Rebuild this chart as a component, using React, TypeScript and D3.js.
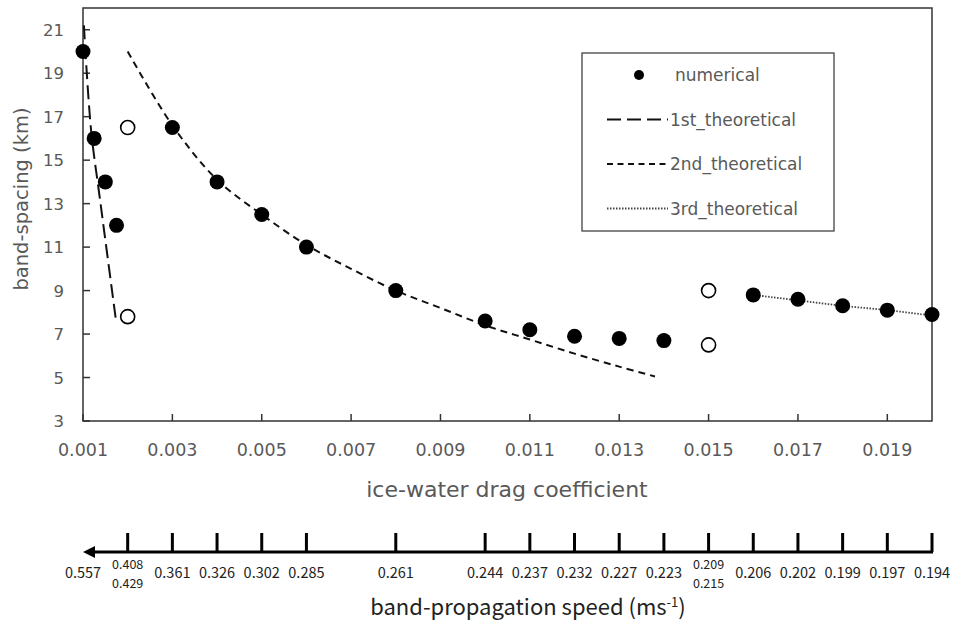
import React from "react";
import * as d3 from "d3";

// ---------- data ----------
const numericalDrag = [0.001, 0.00125, 0.0015, 0.00175, 0.003, 0.004, 0.005, 0.006, 0.008, 0.010, 0.011, 0.012, 0.013, 0.014, 0.016, 0.017, 0.018, 0.019, 0.020];
const numericalSpacing = [20.0, 16.0, 14.0, 12.0, 16.5, 14.0, 12.5, 11.0, 9.0, 7.6, 7.2, 6.9, 6.8, 6.7, 8.8, 8.6, 8.3, 8.1, 7.9];

const openDrag = [0.002, 0.002, 0.015, 0.015];
const openSpacing = [16.5, 7.8, 9.0, 6.5];

const theory1Drag = [0.00102, 0.00118, 0.00138, 0.00174];
const theory1Spacing = [21.2, 16.4, 13.2, 7.6];

const theory2Drag = [0.002, 0.003, 0.004, 0.005, 0.006, 0.007, 0.008, 0.009, 0.010, 0.011, 0.012, 0.013, 0.0138];
const theory2Spacing = [20.0, 16.6, 14.1, 12.5, 11.1, 10.0, 9.0, 8.2, 7.4, 6.75, 6.1, 5.5, 5.05];

const theory3Drag = [0.016, 0.017, 0.018, 0.019, 0.020];
const theory3Spacing = [8.8, 8.55, 8.3, 8.1, 7.85];

const xTickValues = [0.001, 0.003, 0.005, 0.007, 0.009, 0.011, 0.013, 0.015, 0.017, 0.019];
const yTickValues = [3, 5, 7, 9, 11, 13, 15, 17, 19, 21];

const speedDrag = [0.002, 0.003, 0.004, 0.005, 0.006, 0.008, 0.010, 0.011, 0.012, 0.013, 0.014, 0.015, 0.016, 0.017, 0.018, 0.019, 0.020];
const speedLabels = ["0.408|0.429", "0.361", "0.326", "0.302", "0.285", "0.261", "0.244", "0.237", "0.232", "0.227", "0.223", "0.209|0.215", "0.206", "0.202", "0.199", "0.197", "0.194"];
const speedArrowLabel = "0.557";

const legendItems = ["numerical", "1st_theoretical", "2nd_theoretical", "3rd_theoretical"];

// ---------- component ----------
export default function App() {
  const W = 954, H = 624;
  const left = 83, right = 932, top = 8, bottom = 421;
  const x = d3.scaleLinear().domain([0.001, 0.020]).range([left, right]);
  const y = d3.scaleLinear().domain([3, 22]).range([bottom, top]);

  const line = d3.line<[number, number]>().x(d => x(d[0])).y(d => y(d[1])).curve(d3.curveCatmullRom);
  const zip = (a: number[], b: number[]) => a.map((v, i) => [v, b[i]] as [number, number]);

  const gray = "#595959";
  const font = "'DejaVu Sans', sans-serif";
  const cjk = "'Noto Sans CJK JP', sans-serif";

  const axisY = 552;
  const arrowX = x(0.001);

  return (
    <svg width={W} height={H} style={{ position: "absolute", left: 0, top: 0, background: "#fff" }}>
      <rect width={W} height={H} fill="#fff" />
      {/* frame */}
      <rect x={left} y={top} width={right - left} height={bottom - top} fill="none" stroke="#333" strokeWidth={1.5} />
      {/* x ticks */}
      {xTickValues.map(v => (
        <g key={"xt" + v}>
          <line x1={x(v)} x2={x(v)} y1={bottom} y2={bottom - 7} stroke="#333" strokeWidth={1.5} />
          <text x={x(v)} y={456} textAnchor="middle" fontSize={17.5} fill={gray} fontFamily={font}>{v.toFixed(3)}</text>
        </g>
      ))}
      {/* y ticks */}
      {yTickValues.map(v => (
        <g key={"yt" + v}>
          <line x1={left} x2={left + 7} y1={y(v)} y2={y(v)} stroke="#333" strokeWidth={1.5} />
          <text x={64} y={y(v) + 6} textAnchor="end" fontSize={16.5} fill={gray} fontFamily={font}>{v}</text>
        </g>
      ))}
      {/* axis titles */}
      <text transform={`translate(28,199) rotate(-90)`} textAnchor="middle" fontSize={19.5} fill={gray} fontFamily={font}>band-spacing (km)</text>
      <text x={507} y={497} textAnchor="middle" fontSize={22} fill={gray} fontFamily={font}>ice-water drag coefficient</text>

      {/* theoretical lines */}
      <path d={line(zip(theory1Drag, theory1Spacing)) || ""} fill="none" stroke="#111" strokeWidth={2} strokeDasharray="14,6" />
      <path d={line(zip(theory2Drag, theory2Spacing)) || ""} fill="none" stroke="#111" strokeWidth={2} strokeDasharray="7,5" />
      <path d={line(zip(theory3Drag, theory3Spacing)) || ""} fill="none" stroke="#444" strokeWidth={1.8} strokeDasharray="1.5,1.5" />

      {/* points */}
      {numericalDrag.map((d, i) => (
        <circle key={"n" + i} cx={x(d)} cy={y(numericalSpacing[i])} r={7.5} fill="#000" />
      ))}
      {openDrag.map((d, i) => (
        <circle key={"o" + i} cx={x(d)} cy={y(openSpacing[i])} r={7} fill="#fff" stroke="#000" strokeWidth={1.6} />
      ))}

      {/* legend */}
      <g>
        <rect x={582} y={53} width={252} height={178} fill="#fff" stroke="#333" strokeWidth={1.2} />
        {legendItems.map((name, i) => {
          const ly = 75 + i * 44.5;
          return (
            <g key={name}>
              {i === 0 && <circle cx={639} cy={ly} r={5} fill="#000" />}
              {i === 1 && <line x1={607} x2={668} y1={ly} y2={ly} stroke="#111" strokeWidth={2} strokeDasharray="14,6" />}
              {i === 2 && <line x1={607} x2={668} y1={ly} y2={ly} stroke="#111" strokeWidth={2} strokeDasharray="6,4.5" />}
              {i === 3 && <line x1={607} x2={668} y1={ly} y2={ly} stroke="#444" strokeWidth={1.8} strokeDasharray="1.5,1.5" />}
              <text x={i === 0 ? 675 : 670} y={ly + 6} fontSize={17} fill={gray} fontFamily={font}>{name}</text>
            </g>
          );
        })}
      </g>

      {/* speed axis */}
      <line x1={arrowX + 8} x2={right + 1} y1={axisY} y2={axisY} stroke="#000" strokeWidth={3} />
      <path d={`M${arrowX},${axisY} L${arrowX + 12},${axisY - 6} L${arrowX + 12},${axisY + 6} Z`} fill="#000" />
      {speedDrag.map((d, i) => {
        const parts = speedLabels[i].split("|");
        return (
          <g key={"s" + i}>
            <line x1={x(d)} x2={x(d)} y1={axisY} y2={533} stroke="#000" strokeWidth={3} />
            {parts.length === 1 ? (
              <text x={x(d)} y={578} textAnchor="middle" fontSize={14.5} fill="#222" fontFamily={cjk}>{parts[0]}</text>
            ) : (
              <>
                <text x={x(d)} y={569} textAnchor="middle" fontSize={12.5} fill="#222" fontFamily={cjk}>{parts[0]}</text>
                <text x={x(d)} y={588} textAnchor="middle" fontSize={12.5} fill="#222" fontFamily={cjk}>{parts[1]}</text>
              </>
            )}
          </g>
        );
      })}
      <text x={arrowX} y={578} textAnchor="middle" fontSize={14.5} fill="#222" fontFamily={cjk}>{speedArrowLabel}</text>
      <text x={528} y={615} textAnchor="middle" fontSize={22} fill="#222" fontFamily={cjk}>
        band-propagation speed (ms<tspan dy={-8} fontSize={13}>-1</tspan><tspan dy={8}>)</tspan>
      </text>
    </svg>
  );
}
